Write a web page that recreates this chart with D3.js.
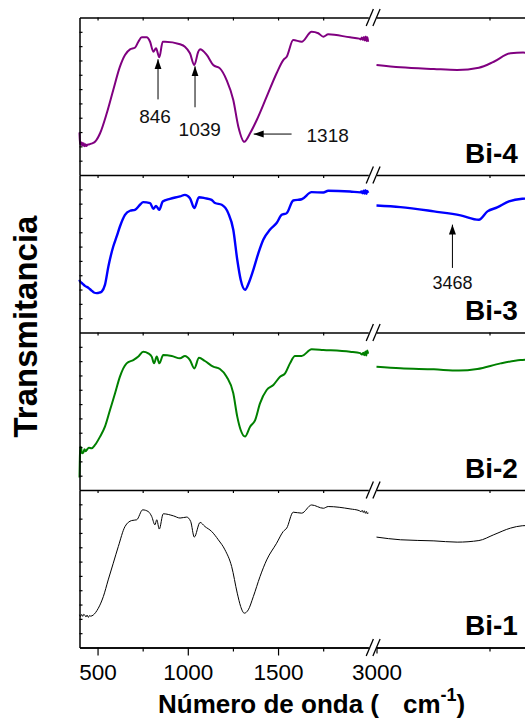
<!DOCTYPE html>
<html>
<head>
<meta charset="utf-8">
<script src="https://cdn.jsdelivr.net/npm/d3@7"></script>
<style>
  html, body { margin: 0; padding: 0; background: #fff; }
  svg { display: block; font-family: "Liberation Sans", Arial, sans-serif; }
</style>
</head>
<body>
<script>
// FTIR spectra of four Bi samples, stacked, with a broken wavenumber axis.
const samples = ["Bi-4", "Bi-3", "Bi-2", "Bi-1"];
const colors = ["#800080", "#0000ff", "#008000", "#000000"];
const widths = [2, 2.4, 2, 1];

// [wavenumber (cm-1), transmittance (a.u., 0-100 within each panel)]
const bi4Low = [[400,27],[402,22],[404,19.5],[407,21],[410,19],[414,20.5],[418,18.8],[423,20.2],[428,18.3],[433,19.6],[438,18.4],[444,19.2],[452,19.4],[465,19.9],[486,21.1],[514,26.5],[551,39.2],[587,54.0],[624,68.8],[652,76.2],[680,79.8],[707,80.8],[726,84.6],[745,87.4],[772,87.4],[791,84.6],[809,78.3],[824,80.4],[842,74.7],[861,84.6],[874,84.6],[957,83.0],[984,81.5],[1012,77.3],[1036,69.8],[1058,78.3],[1068,79.8],[1105,76.2],[1141,69.8],[1178,67.7],[1215,60.3],[1252,47.6],[1280,30.7],[1313,21.1],[1345,26.5],[1382,34.9],[1437,49.7],[1492,64.6],[1529,73.0],[1548,75.1],[1584,85.7],[1631,84.6],[1686,91.0],[1723,90.0],[1751,87.8],[1778,89.3],[1899,87.4],[1950,86.6],[1958,86.1],[1964,87.3],[1970,85.8],[1976,87.6],[1981,85.4],[1986,87.9],[1991,85.0],[1995,87.4],[1999,84.6]];
const bi4High = [[3000,69.9],[3106,68.4],[3254,67.3],[3357,66.7],[3453,68.1],[3519,71.9],[3593,77.3],[3649,77.7],[3700,77.2]];

const bi3Low = [[400,33.5],[403,32.4],[415,31.2],[430,29.6],[450,28.3],[467,26.6],[480,25.4],[495,25.0],[510,25.3],[523,26.0],[541,30.2],[560,41.9],[587,54.6],[606,61.0],[624,67.3],[652,74.7],[680,77.3],[707,77.9],[735,81.1],[753,82.8],[791,82.2],[809,78.5],[824,80.4],[842,77.9],[861,83.2],[901,84.9],[957,86.4],[984,87.4],[1012,85.3],[1036,79.0],[1062,85.9],[1095,85.3],[1132,84.2],[1151,82.2],[1188,81.1],[1224,75.8],[1252,65.2],[1274,46.2],[1293,33.5],[1317,27.1],[1341,32.4],[1363,39.8],[1391,50.4],[1418,58.9],[1455,65.2],[1492,69.5],[1520,74.7],[1548,75.8],[1584,83.8],[1631,84.6],[1686,89.1],[1751,88.9],[1778,90.0],[1899,89.5],[1955,89.0],[1962,89.6],[1968,88.4],[1974,90.0],[1979,88.2],[1984,90.3],[1989,88.0],[1994,89.9],[1999,88.6]];
const bi3High = [[3000,80.6],[3106,79.6],[3254,76.9],[3372,74.4],[3453,71.6],[3491,76.9],[3534,79.4],[3586,83.2],[3645,84.9],[3700,85.2]];

const bi2Low = [[400,8],[402,20],[404,27.5],[408,27.0],[414,23.3],[421,23.8],[428,25.9],[434,24.6],[440,25.4],[452,26.8],[467,26.5],[486,28.6],[514,33.9],[541,40.2],[569,50.8],[597,61.4],[624,72.0],[661,80.4],[698,82.5],[726,84.7],[753,87.8],[781,86.8],[800,84.7],[813,80.4],[828,84.7],[842,80.4],[864,85.7],[911,85.1],[957,83.6],[984,85.1],[1012,82.5],[1036,77.2],[1062,83.9],[1095,81.9],[1141,78.3],[1178,76.8],[1215,71.9],[1252,61.4],[1274,46.6],[1293,38.1],[1317,33.9],[1345,40.2],[1373,44.4],[1400,55.0],[1437,63.5],[1474,66.7],[1511,71.9],[1539,74.1],[1566,80.4],[1594,85.1],[1631,85.1],[1686,89.3],[1751,88.9],[1899,87.8],[1955,86.9],[1965,86.0],[1972,87.2],[1978,85.6],[1984,87.9],[1989,85.4],[1994,88.6],[1999,86.5]];
const bi2High = [[3000,78.3],[3106,77.3],[3254,76.6],[3365,75.8],[3446,76.8],[3549,80.4],[3637,82.5],[3700,82.9]];

const bi1Low = [[400,20.8],[405,19.6],[412,21.0],[418,19.8],[424,21.1],[430,20.4],[436,19.4],[442,20.6],[449,19.1],[456,20.3],[462,19.9],[476,20.6],[504,24.9],[532,32.3],[559,42.9],[587,53.5],[615,64.1],[652,76.8],[689,80.6],[717,81.1],[750,87.4],[781,86.3],[800,83.2],[818,77.9],[828,81.1],[842,75.2],[864,84.9],[920,83.6],[957,82.2],[994,82.8],[1016,80.0],[1036,70.1],[1068,79.4],[1095,76.8],[1132,73.7],[1169,68.4],[1206,62.0],[1243,51.4],[1274,34.5],[1293,26.0],[1313,21.8],[1335,23.9],[1363,32.3],[1400,45.0],[1437,55.6],[1492,66.2],[1529,73.7],[1548,75.8],[1584,85.9],[1631,85.3],[1686,90.5],[1751,88.4],[1778,89.5],[1899,88.0],[1950,86.9],[1960,86.2],[1966,87.1],[1972,85.7],[1978,86.8],[1984,85.2],[1990,86.4],[1995,84.8],[1999,85.6]];
const bi1High = [[3000,70.1],[3106,68.4],[3254,67.7],[3357,66.9],[3453,67.9],[3519,71.6],[3593,75.8],[3645,77.3],[3700,77.6]];

const lowSeries = [bi4Low, bi3Low, bi2Low, bi1Low];
const highSeries = [bi4High, bi3High, bi2High, bi1High];

// Axis ticks and labels
const lowMajor = [500, 1000, 1500];
const lowMinor = [750, 1250, 1750];
const highMajor = [3000];
const highMinor = [3500];
const yTicks = d3.range(1, 11).map(k => 100 * k / 11);

// Band annotations
const bandLabels = ["846", "1039", "1318", "3468"];

const W = 525, H = 721;
const svg = d3.select("body").append("svg").attr("width", W).attr("height", H);

const xLow = d3.scaleLinear().domain([400, 2000]).range([79.5, 368.3]);
const xHigh = d3.scaleLinear().domain([3000, 4000]).range([376.5, 602.5]);

const panelTop = 17.5, panelH = 157.5;
const yScales = samples.map((s, i) =>
  d3.scaleLinear().domain([0, 100]).range([panelTop + (i + 1) * panelH, panelTop + i * panelH]));

// Spectra
const lineFor = (x, y) => d3.line().x(d => x(d[0])).y(d => y(d[1])).curve(d3.curveMonotoneX);
samples.forEach((s, i) => {
  const y = yScales[i];
  svg.append("path").datum(lowSeries[i])
    .attr("d", lineFor(xLow, y))
    .attr("fill", "none").attr("stroke", colors[i]).attr("stroke-width", widths[i])
    .attr("stroke-linejoin", "round");
  svg.append("path").datum(highSeries[i])
    .attr("d", lineFor(xHigh, y))
    .attr("fill", "none").attr("stroke", colors[i]).attr("stroke-width", widths[i])
    .attr("stroke-linejoin", "round");
  svg.append("text")
    .attr("x", 465).attr("y", y.range()[0] - 12.5)
    .attr("font-size", 28).attr("font-weight", "bold").attr("fill", "#000")
    .text(s);
});

// Frame: top edge of every panel, with short inward ticks
const frame = svg.append("g").attr("class", "frame");
function styleAxis(g) {
  g.selectAll("path.domain").attr("stroke", "#000").attr("stroke-width", 1.5);
  g.selectAll(".tick line").attr("stroke", "#000").attr("stroke-width", 1.2);
}
samples.forEach((s, i) => {
  const yy = panelTop + i * panelH;
  frame.append("g").attr("transform", `translate(0,${yy})`)
    .call(d3.axisTop(xLow).tickValues(lowMajor.concat(lowMinor)).tickSize(-3).tickSizeOuter(0).tickFormat(""))
    .call(styleAxis);
  frame.append("g").attr("transform", `translate(0,${yy})`)
    .call(d3.axisTop(xHigh).tickValues(highMinor).tickSize(-3).tickSizeOuter(0).tickFormat(""))
    .call(styleAxis);
  // left edge with inward minor ticks
  frame.append("g").attr("transform", `translate(${xLow.range()[0]},0)`)
    .call(d3.axisLeft(yScales[i]).tickValues(yTicks).tickSize(-3).tickSizeOuter(0).tickFormat(""))
    .call(styleAxis);
});

// Bottom axis
const yBottom = panelTop + samples.length * panelH;
const fmt = d3.format("d");
const bottom = svg.append("g").attr("transform", `translate(0,${yBottom})`);
bottom.append("g").call(d3.axisBottom(xLow).tickValues(lowMajor).tickSize(8).tickSizeOuter(0).tickFormat(fmt))
  .call(styleAxis);
bottom.append("g").call(d3.axisBottom(xLow).tickValues(lowMinor).tickSize(4).tickSizeOuter(0).tickFormat(""))
  .call(styleAxis);
bottom.append("g").call(d3.axisBottom(xHigh).tickValues(highMajor).tickSize(6).tickSizeOuter(0).tickFormat(fmt))
  .call(styleAxis);
bottom.append("g").call(d3.axisBottom(xHigh).tickValues(highMinor).tickSize(4).tickSizeOuter(0).tickFormat(""))
  .call(styleAxis);
bottom.selectAll(".tick text")
  .attr("font-size", 22.5).attr("font-family", "'Liberation Sans', Arial, sans-serif")
  .attr("fill", "#000").attr("dy", null).attr("y", 32);

// Break marks "//" on every horizontal edge
const breakX = [xLow.range()[1] + 1.5, xHigh.range()[0]];
d3.range(samples.length + 1).forEach(k => {
  const yy = panelTop + k * panelH;
  breakX.forEach(bx => {
    svg.append("line")
      .attr("x1", bx - 3.6).attr("y1", yy + 8.5)
      .attr("x2", bx + 3.6).attr("y2", yy - 8.5)
      .attr("stroke", "#000").attr("stroke-width", 1.3);
  });
});

// Band annotations with arrows
const defs = svg.append("defs");
defs.append("marker").attr("id", "head").attr("viewBox", "0 0 10 10")
  .attr("refX", 10).attr("refY", 5).attr("markerWidth", 10).attr("markerHeight", 10)
  .attr("markerUnits", "userSpaceOnUse").attr("orient", "auto")
  .append("path").attr("d", "M0,1.5 L10,5 L0,8.5 Z").attr("fill", "#000");

const y4 = yScales[0], y3 = yScales[1];
const arrows = [
  { x1: xLow(835), y1: y4(48), x2: xLow(835), y2: y4(73.5) },
  { x1: xLow(1040), y1: y4(43), x2: xLow(1040), y2: y4(69) },
  { x1: xLow(1575), y1: y4(26), x2: xLow(1365), y2: y4(26) },
  { x1: xHigh(3336), y1: y3(41), x2: xHigh(3336), y2: y3(68.5) }
];
arrows.forEach(a => {
  svg.append("line").attr("x1", a.x1).attr("y1", a.y1).attr("x2", a.x2).attr("y2", a.y2)
    .attr("stroke", "#000").attr("stroke-width", 1).attr("marker-end", "url(#head)");
});
const labelPos = [
  { x: xLow(835) - 3, y: y4(33), size: 19 },
  { x: xLow(1066), y: y4(25), size: 19 },
  { x: xLow(1775), y: y4(21), size: 19 },
  { x: xHigh(3336), y: y3(27.5), size: 18 }
];
bandLabels.forEach((t, i) => {
  svg.append("text").attr("x", labelPos[i].x).attr("y", labelPos[i].y)
    .attr("text-anchor", "middle").attr("font-size", labelPos[i].size).attr("fill", "#111")
    .text(t);
});

// Axis titles
svg.append("text")
  .attr("transform", `translate(37,${326.5}) rotate(-90)`)
  .attr("text-anchor", "middle").attr("font-size", 33).attr("font-weight", "bold")
  .text("Transmitancia");

const xt = svg.append("text").attr("x", 158).attr("y", 713)
  .attr("font-size", 26).attr("font-weight", "bold");
xt.append("tspan").text("Número de onda (");
xt.append("tspan").attr("dx", 24).text("cm");
xt.append("tspan").attr("dy", -12).attr("font-size", 18).text("-1");
xt.append("tspan").attr("dy", 12).text(")");
</script>
</body>
</html>
